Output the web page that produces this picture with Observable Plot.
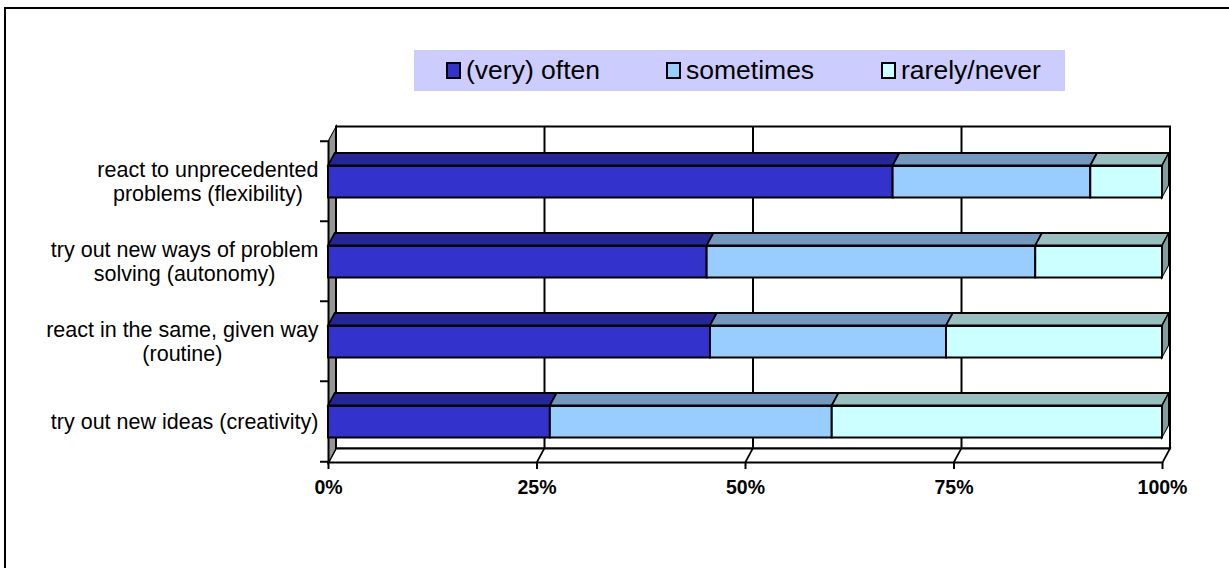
<!DOCTYPE html>
<html><head><meta charset="utf-8">
<script src="https://cdn.jsdelivr.net/npm/d3@7"></script>
<script src="https://cdn.jsdelivr.net/npm/@observablehq/plot@0.6"></script>
<style>
body{margin:0;background:#fff;font-family:"Liberation Sans",Arial,sans-serif;}
#wrap{position:relative;width:1229px;height:568px;overflow:hidden;}
#chart{position:absolute;left:0;top:0;}
#border{position:absolute;left:4px;top:7px;width:1400px;height:800px;border:2px solid #000;box-sizing:border-box;pointer-events:none;}
#legend{position:absolute;left:414px;top:50px;width:651px;height:41px;background:#CCCCFF;}
.item{position:absolute;top:0;height:41px;display:flex;align-items:center;font-size:26.5px;color:#000;white-space:nowrap;}
.sw{width:11px;height:13px;border:2px solid #000;margin-right:5px;}
</style></head><body>
<div id="wrap"><div id="chart"></div><div id="legend"></div><div id="border"></div></div>
<script>
// ---- data ----
const categories = [
  "react to unprecedented problems (flexibility)",
  "try out new ways of problem solving (autonomy)",
  "react in the same, given way (routine)",
  "try out new ideas (creativity)"
];
const tickLabels = [
  "react to unprecedented\nproblems (flexibility)",
  "try out new ways of problem\nsolving (autonomy)",
  "react in the same, given way\n(routine)",
  "try out new ideas (creativity)"
];
const series = ["(very) often", "sometimes", "rarely/never"];
const often     = [67.7, 45.4, 45.8, 26.6];
const sometimes = [23.7, 39.4, 28.3, 33.8];
const rarely    = [8.6, 15.2, 25.9, 39.6];
const xTicks = [0, 25, 50, 75, 100];
const frontColors = ["#3333CC", "#99CCFF", "#CCFFFF"];
const topColors   = ["#262699", "#7399BF", "#99BFBF"];
const sideColor = "#7F9F9F";
const wallColor = "#969696";

// ---- layout ----
const W = 1229, H = 568, mL = 328, mR = 67, mT = 140, mB = 106;
const frameW = W - mL - mR, frameH = H - mT - mB;
const band = frameH / categories.length;
const wallDX = 7.5, wallDY = 14, barDX = 7, barDY = 13;
const barInsetTop = 25, barH = 32;
const SW = 2;

const values = [often, sometimes, rarely];
const data = categories.flatMap((c, i) => series.map((s, j) => ({cat: c, series: s, j, value: values[j][i]})));
const totals = categories.map((c, i) => ({cat: c, total: often[i] + sometimes[i] + rarely[i]}));

const chart = Plot.plot({
  width: W, height: H,
  marginLeft: mL, marginRight: mR, marginTop: mT, marginBottom: mB,
  style: {background: "transparent", fontFamily: "'Liberation Sans', Arial, sans-serif", color: "black"},
  x: {domain: [0, 100], axis: null},
  y: {domain: categories, padding: 0, axis: null},
  color: {type: "identity"},
  marks: [
    // back wall
    Plot.frame({fill: "white", stroke: "black", strokeWidth: SW, dx: wallDX, dy: -wallDY}),
    Plot.ruleX(xTicks.slice(1, -1), {stroke: "black", strokeWidth: SW, dx: wallDX, dy: -wallDY}),
    // floor
    Plot.frame({fill: "white", stroke: "black", strokeWidth: SW, insetTop: frameH - wallDY, ariaDescription: "floor"}),
    Plot.ruleX(xTicks.slice(1, -1), {stroke: "black", strokeWidth: SW, insetTop: frameH - wallDY, ariaDescription: "floordiag"}),
    // left side wall
    Plot.frame({fill: wallColor, stroke: "black", strokeWidth: SW, insetRight: frameW - wallDX, ariaDescription: "leftwall"}),
    // y ticks at category boundaries
    Plot.axisY({tickSize: 8, tickFormat: () => "", label: null, strokeWidth: SW, dy: -band / 2}),
    Plot.axisY({ticks: [categories[categories.length - 1]], tickSize: 8, tickFormat: () => "", label: null, strokeWidth: SW, dy: band / 2}),
    // x axis
    Plot.axisX({ticks: xTicks, tickFormat: d => d + "%", tickSize: 7, tickPadding: 11, strokeWidth: SW,
      fontSize: 19.5, fontWeight: "bold", label: null}),
    // y labels
    Plot.axisY({tickSize: 0, tickPadding: 10, fontSize: 21.5, lineHeight: 24 / 21.5, label: null,
      tickFormat: d => tickLabels[categories.indexOf(d)]}),
    // bars: front faces
    Plot.barX(data, Plot.stackX({x: "value", y: "cat", z: "series", fill: d => frontColors[d.j],
      stroke: "black", strokeWidth: SW, insetTop: barInsetTop, insetBottom: band - barInsetTop - barH})),
    // bars: top faces
    Plot.barX(data, Plot.stackX({x: "value", y: "cat", z: "series", fill: d => topColors[d.j],
      stroke: "black", strokeWidth: SW, insetTop: barInsetTop - barDY, insetBottom: band - barInsetTop, ariaDescription: "top"})),
    // bars: right end face
    Plot.barX(totals, {x1: "total", x2: "total", y: "cat", fill: sideColor, stroke: "black", strokeWidth: SW,
      insetTop: barInsetTop, insetBottom: band - barInsetTop - barH, insetRight: -barDX, ariaDescription: "side"})
  ]
});
document.getElementById("chart").append(chart);

// ---- 3D skew post-processing ----
function targets(label) {
  const out = [];
  chart.querySelectorAll(`[aria-description="${label}"]`).forEach(el => {
    const tag = el.tagName.toLowerCase();
    if (tag === "rect" || tag === "line") out.push(el);
    else el.querySelectorAll("rect,line").forEach(c => out.push(c));
  });
  return out;
}
function addTransform(el, t) {
  const ex = el.getAttribute("transform");
  el.setAttribute("transform", (ex ? ex + " " : "") + t);
}
const deg = r => r * 180 / Math.PI;
function skewUpRight(label, dx, dy) {
  const a = deg(Math.atan(-dx / dy));
  targets(label).forEach(el => {
    let base;
    if (el.tagName.toLowerCase() === "rect") base = +el.getAttribute("y") + +el.getAttribute("height");
    else base = Math.max(+el.getAttribute("y1"), +el.getAttribute("y2"));
    addTransform(el, `translate(0,${base}) skewX(${a}) translate(0,${-base})`);
  });
}
function skewSide(label, dx, dy) {
  const a = deg(Math.atan(-dy / dx));
  targets(label).forEach(el => {
    const base = +el.getAttribute("x");
    addTransform(el, `translate(${base},0) skewY(${a}) translate(${-base},0)`);
  });
}
skewUpRight("floor", wallDX, wallDY);
skewUpRight("floordiag", wallDX, wallDY);
skewSide("leftwall", wallDX, wallDY);
skewUpRight("top", barDX, barDY);
skewSide("side", barDX, barDY);

// center multi-line y labels within their block (right aligned block)
chart.querySelectorAll("text").forEach(t => {
  const spans = t.querySelectorAll("tspan");
  if (spans.length < 2) return;
  const bb = t.getBBox();
  const cx = bb.x + bb.width / 2;
  t.setAttribute("text-anchor", "middle");
  spans.forEach(s => s.setAttribute("x", cx));
});

// ---- legend ----
const legend = document.getElementById("legend");
const legendLeft = [32, 252, 467];
series.forEach((s, j) => {
  const it = document.createElement("div");
  it.className = "item";
  it.style.left = legendLeft[j] + "px";
  const sw = document.createElement("div");
  sw.className = "sw";
  sw.style.background = frontColors[j];
  it.append(sw, document.createTextNode(s));
  legend.append(it);
});
</script>
</body></html>
